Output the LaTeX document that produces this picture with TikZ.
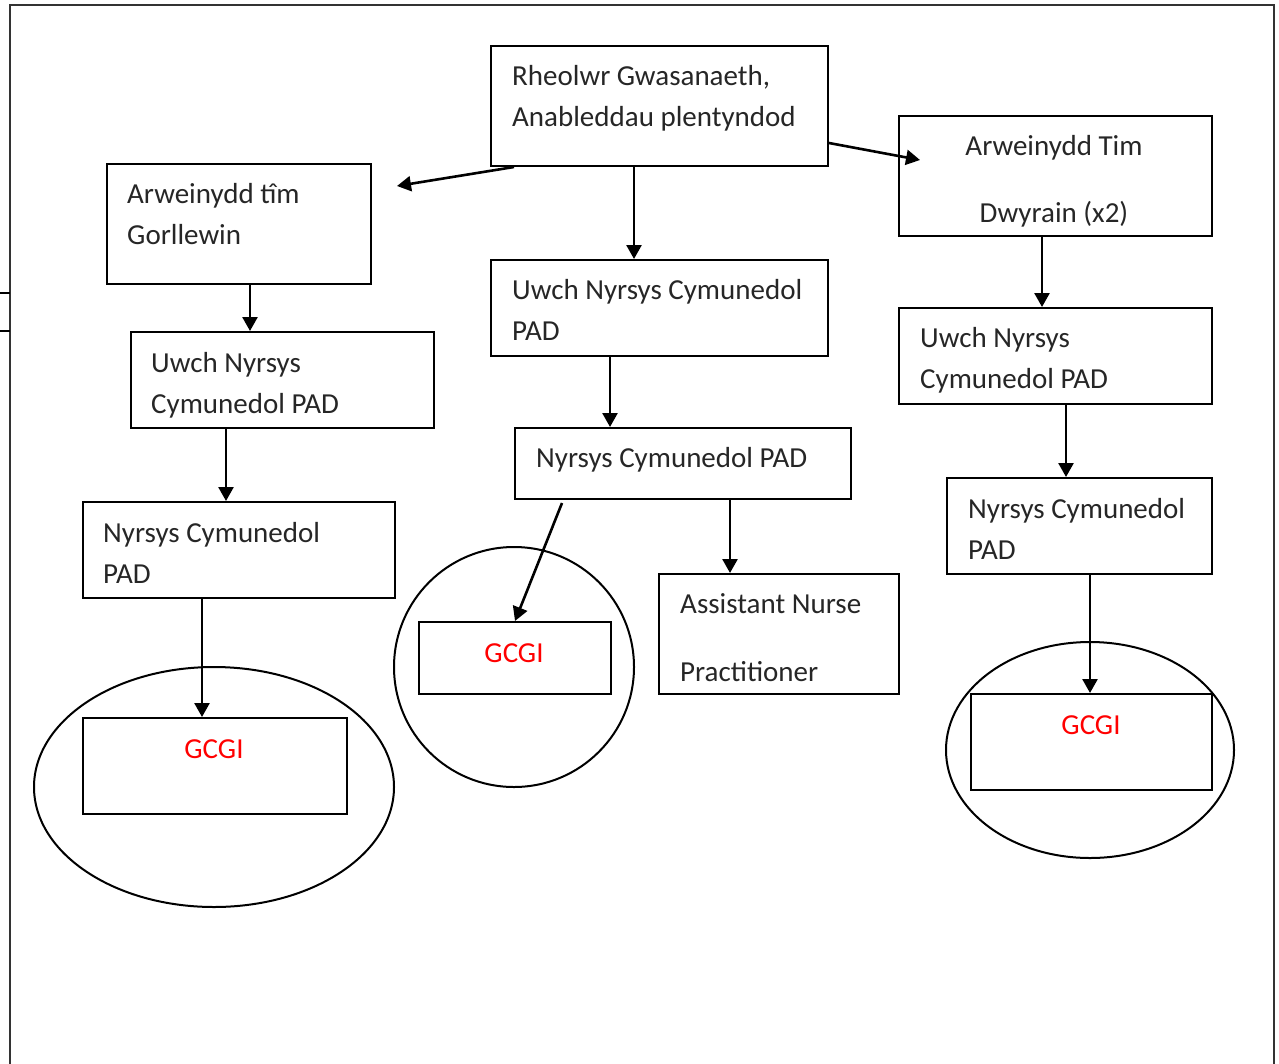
\documentclass[tikz,border=0pt]{standalone}
\usepackage{fontspec}
\setmainfont{Carlito}
\usetikzlibrary{arrows.meta,positioning,calc}
\definecolor{ink}{HTML}{000000}
\definecolor{txtgray}{HTML}{262626}
\definecolor{gcgired}{HTML}{FF0000}
\tikzset{
  orgbox/.style={draw=ink,line width=2pt,rectangle,anchor=north west,inner sep=0pt},
  orgtext/.style={anchor=base west,inner sep=0pt,align=left,text=txtgray,
                  font=\fontsize{29}{41}\selectfont},
  gcgitext/.style={anchor=base,inner sep=0pt,text=gcgired,
                   font=\fontsize{29}{41}\selectfont},
  orgarr/.style={-{Triangle[length=14pt,width=15pt]},line width=2.6pt,draw=ink},
  ring/.style={draw=ink,line width=2pt}
}
\begin{document}
\begin{tikzpicture}[x=1pt,y=-1pt]
  \useasboundingbox (0,0) rectangle (1279,1063);
  % page frame and stubs
  \draw[ink!80,line width=2pt] (10,1070) -- (10,5) -- (1274,5) -- (1274,1070);
  \draw[ink,line width=2pt] (0,293) -- (10,293) (0,331) -- (10,331);

  % boxes
  \node[orgbox,minimum width=337pt,minimum height=120pt] (rheol) at (490,45) {};
  \node[orgbox,minimum width=264pt,minimum height=120pt] (gorl) at (106,163) {};
  \node[orgbox,minimum width=313pt,minimum height=120pt] (dwy) at (898,115) {};
  \node[orgbox,minimum width=337pt,minimum height=96pt] (uwchm) at (490,259) {};
  \node[orgbox,minimum width=303pt,minimum height=96pt] (uwchl) at (130,331) {};
  \node[orgbox,minimum width=313pt,minimum height=96pt] (uwchr) at (898,307) {};
  \node[orgbox,minimum width=336pt,minimum height=71pt] (nyrm) at (514,427) {};
  \node[orgbox,minimum width=312pt,minimum height=96pt] (nyrl) at (82,501) {};
  \node[orgbox,minimum width=265pt,minimum height=96pt] (nyrr) at (946,477) {};
  \node[orgbox,minimum width=240pt,minimum height=120pt] (asst) at (658,573) {};
  \node[orgbox,minimum width=264pt,minimum height=96pt] (gcgil) at (82,717) {};
  \node[orgbox,minimum width=192pt,minimum height=72pt] (gcgim) at (418,621) {};
  \node[orgbox,minimum width=241pt,minimum height=96pt] (gcgir) at (970,693) {};

  % texts (placed at the baseline of their last line)
  \node[orgtext] (rheol-t) at (512,126) {Rheolwr Gwasanaeth,\\Anableddau plentyndod};
  \node[orgtext] (gorl-t) at (127,244) {Arweinydd tîm\\Gorllewin};
  \node[orgtext,anchor=base,align=center] (dwy-t) at (1054,222) {Arweinydd Tim\\[26pt]Dwyrain (x2)};
  \node[orgtext] (uwchm-t) at (512,340) {Uwch Nyrsys Cymunedol\\PAD};
  \node[orgtext] (uwchl-t) at (151,413) {Uwch Nyrsys\\Cymunedol PAD};
  \node[orgtext] (uwchr-t) at (920,388) {Uwch Nyrsys\\Cymunedol PAD};
  \node[orgtext] (nyrm-t) at (536,467) {Nyrsys Cymunedol PAD};
  \node[orgtext] (nyrl-t) at (103,583) {Nyrsys Cymunedol\\PAD};
  \node[orgtext] (nyrr-t) at (968,559) {Nyrsys Cymunedol\\PAD};
  \node[orgtext] (asst-t) at (680,681) {Assistant Nurse\\[27pt]Practitioner};
  \node[gcgitext] (gcgil-t) at (214,758) {GCGI};
  \node[gcgitext] (gcgim-t) at (514,662) {GCGI};
  \node[gcgitext] (gcgir-t) at (1091,734) {GCGI};

  % rings round the GCGI boxes
  \draw[ring] (214,787) ellipse [x radius=180,y radius=120];
  \draw[ring] (514,667) circle [radius=120];
  \draw[ring] (1090,750) ellipse [x radius=144,y radius=108];

  % connectors
  \coordinate (gorl-in) at ([xshift=25pt,yshift=-23pt]gorl.north east);
  \coordinate (dwy-in) at ([xshift=22pt,yshift=-45pt]dwy.north west);
  \draw[orgarr] ([xshift=24pt]rheol.south west) -- (gorl-in);
  \draw[orgarr] ([yshift=24pt]rheol.south east) -- (dwy-in);
  \draw[orgarr] ([xshift=144pt]rheol.south west) -- ([xshift=144pt]uwchm.north west);
  \draw[orgarr] ([xshift=144pt]gorl.south west) -- ([xshift=120pt]uwchl.north west);
  \draw[orgarr] ([xshift=96pt]uwchl.south west) -- ([xshift=144pt]nyrl.north west);
  \draw[orgarr] ([xshift=120pt]nyrl.south west) -- ([xshift=120pt]gcgil.north west);
  \draw[orgarr] ([xshift=120pt]uwchm.south west) -- ([xshift=96pt]nyrm.north west);
  \draw[orgarr] ([xshift=48pt,yshift=-3pt]nyrm.south west) -- (gcgim.north);
  \draw[orgarr] ([xshift=216pt]nyrm.south west) -- ([xshift=72pt]asst.north west);
  \draw[orgarr] ([xshift=144pt]dwy.south west) -- ([xshift=144pt]uwchr.north west);
  \draw[orgarr] ([xshift=168pt]uwchr.south west) -- ([xshift=120pt]nyrr.north west);
  \draw[orgarr] ([xshift=144pt]nyrr.south west) -- ([xshift=120pt]gcgir.north west);
\end{tikzpicture}
\end{document}
